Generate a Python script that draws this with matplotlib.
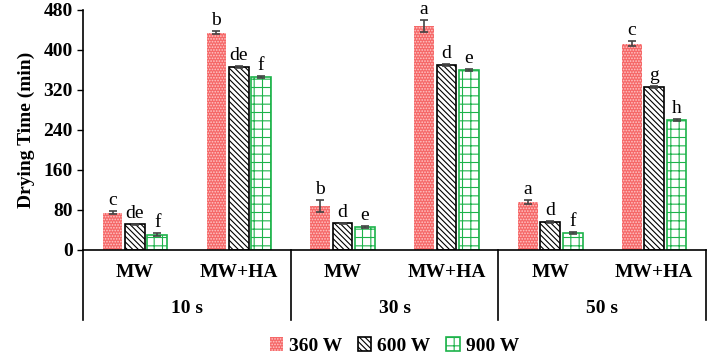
import numpy as np
import matplotlib.pyplot as plt
import matplotlib.transforms as mtransforms

# Datos
treatments = ['MW', 'MW+HA', 'MW', 'MW+HA', 'MW', 'MW+HA']
groups = ['10 s', '30 s', '50 s']
powers = ['360 W', '600 W', '900 W']

t360 = [74, 434, 88, 448, 95, 412]
t600 = [51, 366, 53, 369, 55, 325]
t900 = [30, 345, 45, 359, 33, 259]

e360 = [3, 3, 12, 12, 4, 5]
e600 = [1, 2, 1, 2, 2, 2]
e900 = [3, 2, 2, 2, 2, 2]

l360 = ['c', 'b', 'b', 'a', 'a', 'c']
l600 = ['de', 'de', 'd', 'd', 'd', 'g']
l900 = ['f', 'f', 'e', 'e', 'f', 'h']

plt.rcParams['font.family'] = 'Liberation Serif'
plt.rcParams['hatch.linewidth'] = 0.8

fig = plt.figure(figsize=(7.09, 3.55), dpi=100)
ax = fig.add_axes([0.117, 0.296, 0.879, 0.676])

x = np.arange(len(treatments))
w = 0.19
step = 0.215

series = [
    (t360, e360, l360, dict(facecolor='#f56868', edgecolor='#ffc8c8', hatch='......', linewidth=0)),
    (t600, e600, l600, dict(facecolor='white', edgecolor='black', hatch='\\\\\\\\\\\\', linewidth=1.2)),
    (t900, e900, l900, dict(facecolor='white', edgecolor='#1db34a', hatch='++', linewidth=1.2)),
]

handles = []
for k, (vals, errs, labs, style) in enumerate(series):
    pos = x + (k - 1) * step
    b = ax.bar(pos, vals, w, zorder=2, **style)
    handles.append(b)
    ax.errorbar(pos, vals, yerr=errs, fmt='none', ecolor='#444444',
                elinewidth=1.2, capsize=3, capthick=1.2, zorder=3)
    for p, v, er, t in zip(pos, vals, errs, labs):
        ax.text(p, v + er + 4, t, ha='center', va='bottom', fontsize=14)

ax.set_xlim(-0.5, len(treatments) - 0.5)
ax.set_ylim(0, 480)
ax.set_yticks(np.arange(0, 481, 80))
ax.tick_params(axis='y', labelsize=14, direction='out', length=4, width=1)
for lab in ax.get_yticklabels():
    lab.set_fontweight('bold')
ax.set_xticks([])
ax.spines['top'].set_visible(False)
ax.spines['right'].set_visible(False)
ax.spines['left'].set_linewidth(1.2)
ax.spines['bottom'].set_linewidth(1.2)
ax.set_ylabel('Drying Time (min)', fontsize=14, fontweight='bold', labelpad=6)

trans = mtransforms.blended_transform_factory(ax.transData, ax.transAxes)
for i, t in enumerate(treatments):
    ax.text(i, -0.096, t, transform=trans, ha='center', va='center',
            fontsize=14, fontweight='bold')
for g, name in enumerate(groups):
    ax.text(2 * g + 0.5, -0.243, name, transform=trans, ha='center', va='center',
            fontsize=14, fontweight='bold')
for s in [-0.5, 1.5, 3.5, 5.5]:
    ax.plot([s, s], [0, -0.293], transform=trans, color='black', lw=1.2,
            clip_on=False)

fig.legend(handles, powers, loc='center', bbox_to_anchor=(0.556, 0.026), ncol=3,
           frameon=False, prop={'weight': 'bold', 'size': 14},
           handlelength=0.7, handleheight=0.7, handletextpad=0.3,
           columnspacing=0.8, borderpad=0)

fig.savefig('out.png', dpi=100)
